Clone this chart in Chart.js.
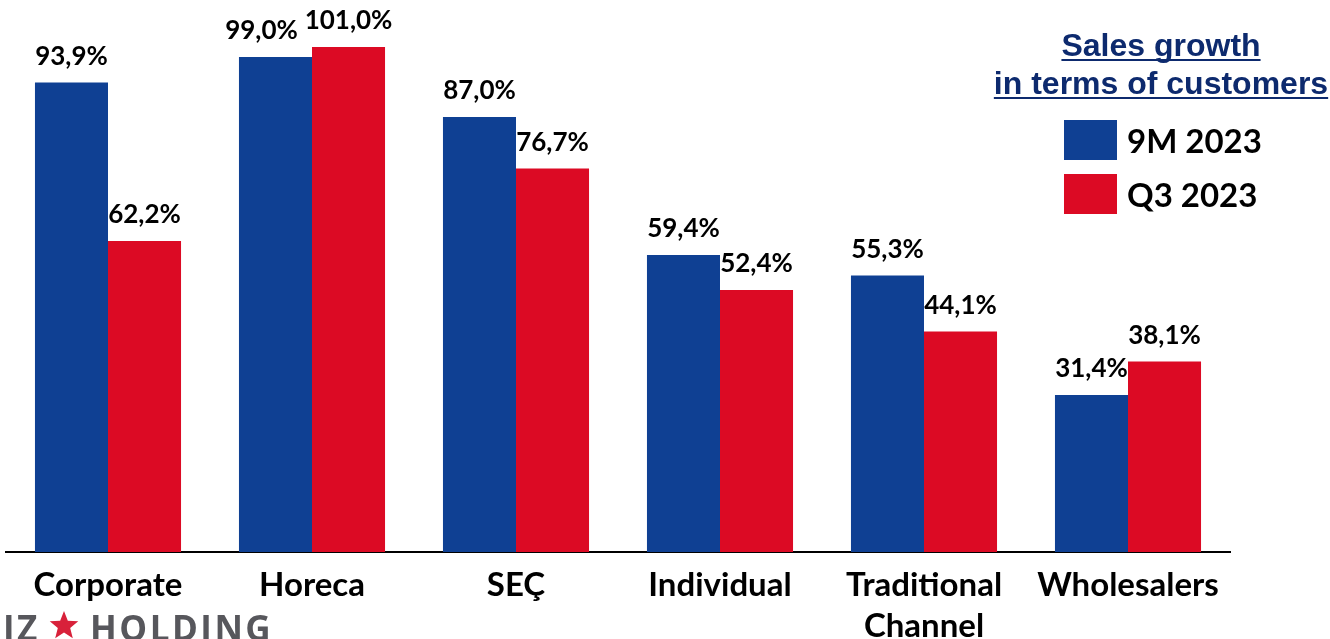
<!DOCTYPE html>
<html>
<head>
<meta charset="utf-8">
<script src="https://cdn.jsdelivr.net/npm/chart.js@4.4.1/dist/chart.umd.min.js"></script>
<style>
    html, body { margin: 0; padding: 0; background: #ffffff; }
    #wrap { width: 1330px; height: 639px; position: relative; }
</style>
</head>
<body>
<div id="wrap"><canvas id="chart"></canvas></div>
<script>
// Data
const categories = [['Corporate'], ['Horeca'], ['SEÇ'], ['Individual'], ['Traditional', 'Channel'], ['Wholesalers']];
const series9M = [93.9, 99.0, 87.0, 59.4, 55.3, 31.4];
const seriesQ3 = [62.2, 101.0, 76.7, 52.4, 44.1, 38.1];
const seriesNames = ['9M 2023', 'Q3 2023'];
const legendTitle = ['Sales growth', 'in terms of customers'];

const BLUE = '#0f4093';
const RED = '#dc0a24';

// Value labels: Excel-style "93,9%"
const fmt = v => v.toFixed(1).replace('.', ',') + '%';

// Plugin: labels above bars, category labels, legend, logo
const decorPlugin = {
    id: 'decor',
    afterDatasetsDraw(chart) {
        const ctx = chart.ctx;
        const xs = chart.scales.x;
        const area = chart.chartArea;
        ctx.save();

        // value labels (Horeca 9M nudged left so it doesn't touch 101,0%)
        ctx.fillStyle = '#000000';
        ctx.font = 'bold 26px Lato';
        ctx.textAlign = 'center';
        ctx.textBaseline = 'bottom';
        const shift = { '0-1': -14 };
        chart.data.datasets.forEach((ds, di) => {
            chart.getDatasetMeta(di).data.forEach((bar, i) => {
                const dx = shift[di + '-' + i] || 0;
                ctx.fillText(fmt(ds.data[i]), bar.x + dx, bar.y - 13);
            });
        });

        // category labels
        ctx.font = 'bold 33px Lato';
        ctx.textBaseline = 'alphabetic';
        categories.forEach((lines, i) => {
            const x = xs.getPixelForValue(i);
            lines.forEach((t, k) => {
                ctx.fillText(t, x, area.bottom + 44 + k * 41);
            });
        });

        // legend title (underlined)
        ctx.fillStyle = '#0d2a6e';
        ctx.strokeStyle = '#0d2a6e';
        ctx.lineWidth = 2;
        ctx.font = 'bold 32px "Liberation Sans", Arial';
        const tx = 1161;
        legendTitle.forEach((t, k) => {
            const y = 56 + k * 38;
            ctx.fillText(t, tx, y);
            const w = ctx.measureText(t).width;
            ctx.beginPath();
            ctx.moveTo(tx - w / 2, y + 4);
            ctx.lineTo(tx + w / 2, y + 4);
            ctx.stroke();
        });

        // legend items
        ctx.textAlign = 'left';
        ctx.textBaseline = 'middle';
        ctx.font = 'bold 33px Lato';
        chart.data.datasets.forEach((ds, di) => {
            const y = 120 + di * 54;
            ctx.fillStyle = ds.backgroundColor;
            ctx.fillRect(1064, y, 53, 40);
            ctx.fillStyle = '#000000';
            ctx.fillText(ds.label, 1127, y + 22);
        });

        // logo at bottom-left (clipped by the page edge)
        ctx.textBaseline = 'alphabetic';
        ctx.font = 'bold 35px "Open Sans"';
        ctx.fillStyle = '#57575c';
        ctx.letterSpacing = '2.5px';
        ctx.fillText('IZ', 3, 641);
        ctx.fillText('HOLDING', 90, 641);
        ctx.letterSpacing = '0px';
        // star
        ctx.fillStyle = '#d8213a';
        const cx = 64, cy = 626, R = 15, r = 6.5;
        ctx.beginPath();
        for (let k = 0; k < 10; k++) {
            const rad = k % 2 === 0 ? R : r;
            const a = -Math.PI / 2 + k * Math.PI / 5;
            const px = cx + rad * Math.cos(a), py = cy + rad * Math.sin(a);
            if (k === 0) ctx.moveTo(px, py); else ctx.lineTo(px, py);
        }
        ctx.closePath();
        ctx.fill();

        ctx.restore();
    }
};

new Chart(document.getElementById('chart'), {
    type: 'bar',
    data: {
        labels: categories.map(c => c.join(' ')),
        datasets: [
            { label: seriesNames[0], data: series9M, backgroundColor: BLUE },
            { label: seriesNames[1], data: seriesQ3, backgroundColor: RED }
        ]
    },
    options: {
        responsive: true,
        maintainAspectRatio: false,
        animation: false,
        layout: { padding: { left: 6, right: 100, top: 2, bottom: 79 } },
        plugins: {
            legend: { display: false },
            tooltip: { enabled: false }
        },
        datasets: {
            bar: { categoryPercentage: 0.716, barPercentage: 1.0 }
        },
        scales: {
            x: {
                grid: { display: false },
                ticks: { display: false },
                border: { display: true, color: '#000000', width: 2 }
            },
            y: {
                display: false,
                min: 0,
                max: 110
            }
        }
    },
    plugins: [decorPlugin]
});
</script>
</body>
</html>
